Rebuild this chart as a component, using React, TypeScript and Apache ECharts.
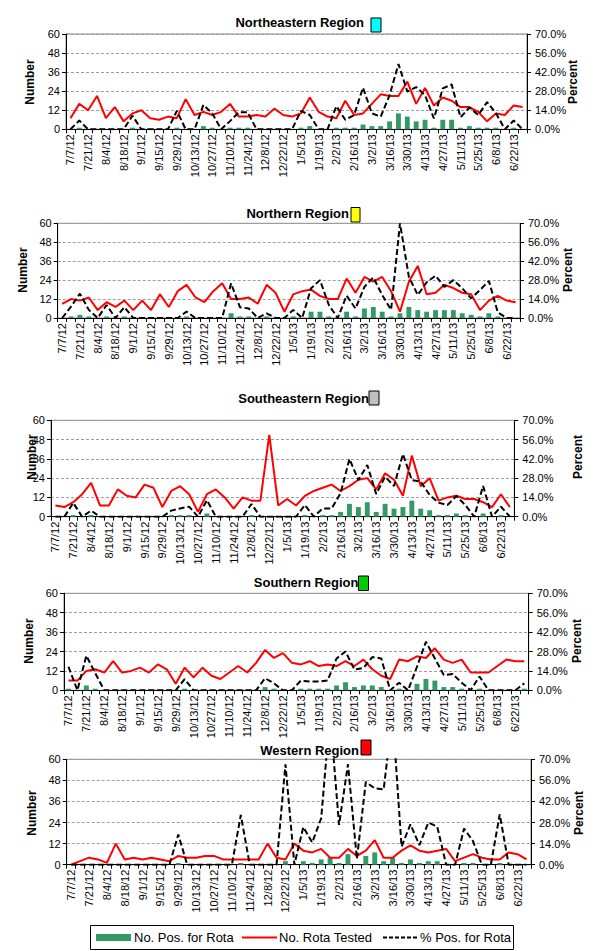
import React, { useEffect, useRef } from "react";
import * as echarts from "echarts";

const weeks = [
  "7/7/12", "7/14/12", "7/21/12", "7/28/12", "8/4/12", "8/11/12", "8/18/12", "8/25/12",
  "9/1/12", "9/8/12", "9/15/12", "9/22/12", "9/29/12", "10/6/12", "10/13/12", "10/20/12",
  "10/27/12", "11/3/12", "11/10/12", "11/17/12", "11/24/12", "12/1/12", "12/8/12", "12/15/12",
  "12/22/12", "12/29/12", "1/5/13", "1/12/13", "1/19/13", "1/26/13", "2/2/13", "2/9/13",
  "2/16/13", "2/23/13", "3/2/13", "3/9/13", "3/16/13", "3/23/13", "3/30/13", "4/6/13",
  "4/13/13", "4/20/13", "4/27/13", "5/4/13", "5/11/13", "5/18/13", "5/25/13", "6/1/13",
  "6/8/13", "6/15/13", "6/22/13", "6/29/13",
];

const numberTicks = { min: 0, max: 60, interval: 12 };
const percentTicks = { min: 0, max: 70, interval: 14 };

// Northeastern
const nePos = [0,1,0,0,0,0,0,1,0,0, 0,0,1,0,0,2,1,0,1,1, 1,0,0,0,0,0,1,2,0,0, 1,1,1,3,2,2,5,10,8,5, 6,1,6,6,1,2,1,1,1,0, 1,0];
const neTested = [7,16,12,21,7,14,5,10,12,7, 6,8,7,19,9,11,9,11,16,8, 8,9,8,13,9,8,10,20,11,8, 7,18,9,10,16,22,21,21,30,16, 26,15,20,18,14,14,11,5,10,9, 15,14];
const nePct = [0,6.4,0,0,0,0,0,10,0,0, 0,0,13.5,0,0,17.9,11.7,0,6,12.5, 12.5,0,0,0,0,0,13.5,10.5,0,0, 17,7,10.5,30.6,11.7,9.3,25,48,27.7,31, 25,8,30,33,8.8,16,10.5,20,11.7,0, 6.4,0];

// Northern
const nPos = [0,1,2,1,0,1,0,1,0,0, 0,0,0,0,1,0,0,0,0,3, 1,1,0,1,0,0,1,0,4,4, 1,0,4,1,6,7,4,1,3,7, 5,4,5,5,5,3,2,1,3,1, 0,0];
const nTested = [9,12,11,13,5,10,7,11,5,11, 5,15,7,17,21,13,10,17,22,12, 12,13,9,21,16,4,15,17,18,14, 12,12,25,16,26,23,26,17,4,23, 33,15,16,21,19,16,15,5,11,14, 11,10];
const nPct = [0,8.4,18,6,0,9.6,0,8,0,0, 0,0,0,0,4.7,0,0,0,0,25.6, 8,7,0,3.5,0,0,6,0,22,28, 9.6,0,16.5,7,23,30,17,6,70,30.5, 17,26.4,31.3,23,28,22,14.5,20.7,27.4,4.2, 0,0];

// Southeastern
const sePos = [0,0,1,0,1,0,0,0,0,0, 0,0,0,1,1,1,0,2,0,0, 0,0,1,0,0,0,0,0,1,0, 1,1,3,8,6,9,3,8,5,6, 10,5,4,1,1,2,1,0,2,0, 1,0];
const seTested = [7,6,9,14,21,7,7,17,13,12, 20,18,6,16,19,14,3,14,17,12, 5,12,10,10,51,7,11,7,13,16, 18,20,16,19,23,24,17,27,23,13, 38,19,24,10,12,13,11,11,9,6, 14,6];
const sePct = [0,0,10,0,4.4,0,0,0,0,0, 0,0,0,4.4,6,7.3,0,12,0,0, 0,0,9.2,0,0,0,0,0,8.5,0, 6,6,17,42,26.6,37.5,16.5,29,22.3,45.5, 26.6,25.4,15.7,10.2,8.5,15,8.5,0,22.3,0, 7.3,0];

// Southern
const sPos = [1,0,3,1,0,0,0,0,0,0, 0,0,0,1,0,0,0,0,0,0, 0,0,2,1,0,0,1,1,1,1, 3,5,2,3,3,2,0,1,0,4, 7,6,2,2,1,0,1,0,0,0, 0,1];
const sTested = [6,6,12,13,11,18,11,12,14,11, 16,13,4,14,8,14,9,7,11,15, 11,17,25,20,23,17,16,18,15,16, 15,18,15,19,13,9,7,19,18,21, 20,26,19,17,19,11,11,11,15,19, 18,18];
const sPct = [17,0,25,12.3,0,0,0,0,0,0, 0,0,0,8,0,0,0,0,0,0, 0,0,8.7,5,0,0,7,6.3,6.3,7, 23,28,15,16,24,23,0,5.5,0,17, 35,23,11,11.8,5.5,0,10,0,0,0, 0,5];

// Western
const wPos = [0,0,0,0,0,0,0,0,0,0, 0,0,1,0,0,0,0,0,0,1, 0,0,0,0,2,0,2,1,3,4, 1,6,0,5,7,2,4,1,3,1, 2,2,0,0,1,1,0,0,1,0, 0,0];
const wTested = [0,2,4,3,1,12,3,4,3,4, 3,2,5,4,4,5,5,3,3,3, 3,3,12,4,3,12,8,7,9,4, 4,9,5,8,14,4,4,8,11,8, 7,8,9,2,4,6,4,3,3,7, 6,3];
const wPct = [0,0,0,0,0,0,0,0,0,0, 0,0,20,0,0,0,0,0,0,33, 0,0,0,0,66.7,0,25,14.8,30.8,100, 26.4,66.7,3.8,55,50.7,50,100,12,26.8,13, 28,25.3,0,0,24,15.7,0,0,33.4,0, 0,0];

const seriesNames = ["No. Pos. for Rota", "No. Rota Tested", "% Pos. for Rota"];

const FONT = "'Liberation Sans', Arial, sans-serif";

const panels = [
  { title: "Northeastern Region", swatch: "#00FFFF", pos: nePos, tested: neTested, pct: nePct,
    grid: { left: 66, top: 34, width: 461, height: 95.3 }, titleEnd: 364, titleY: 22, sw: [371, 18, 10, 14],
    numX: 30, pctX: 573, nameY: 82 },
  { title: "Northern Region", swatch: "#FFFF00", pos: nPos, tested: nTested, pct: nPct,
    grid: { left: 57.7, top: 223.3, width: 462.3, height: 94.7 }, titleEnd: 349, titleY: 213.3, sw: [351, 207.5, 9, 14.5],
    numX: 23, pctX: 568, nameY: 270 },
  { title: "Southeastern Region", swatch: "#C0C0C0", pos: sePos, tested: seTested, pct: sePct,
    grid: { left: 51, top: 420.3, width: 463.3, height: 96.4 }, titleEnd: 369, titleY: 398.3, sw: [369, 391, 10, 14],
    numX: 32, pctX: 578, nameY: 457 },
  { title: "Southern Region", swatch: "#00CC00", pos: sPos, tested: sTested, pct: sPct,
    grid: { left: 64, top: 593.3, width: 464.7, height: 97 }, titleEnd: 358.5, titleY: 582.7, sw: [358.5, 576, 10, 14.5],
    numX: 29, pctX: 577, nameY: 641 },
  { title: "Western Region", swatch: "#FF0000", pos: wPos, tested: wTested, pct: wPct,
    grid: { left: 66.7, top: 759.3, width: 464.3, height: 105.4 }, titleEnd: 359, titleY: 750, sw: [361, 740, 10, 15],
    numX: 32, pctX: 579, nameY: 813 },
];

export default function App() {
  const ref = useRef<HTMLDivElement>(null);

  useEffect(() => {
    if (!ref.current) return;
    const chart = echarts.init(ref.current, undefined, { renderer: "svg" });

    const grids = panels.map((p) => ({
      ...p.grid,
      show: true,
      borderColor: "#808080",
      borderWidth: 1,
      backgroundColor: "transparent",
      containLabel: false,
    }));

    const xAxes = panels.map((p, k) => ({
      type: "category",
      gridIndex: k,
      data: weeks,
      boundaryGap: true,
      axisLine: { show: true, lineStyle: { color: "#000", width: 1 } },
      axisTick: { show: true, interval: 0, length: 4, lineStyle: { color: "#000" } },
      axisLabel: { interval: 1, rotate: 90, margin: 5, fontSize: 11, color: "#000", fontFamily: FONT },
      splitLine: { show: false },
    }));

    const yAxes: any[] = [];
    panels.forEach((p, k) => {
      yAxes.push({
        type: "value",
        gridIndex: k,
        position: "left",
        ...numberTicks,
        axisLine: { show: true, lineStyle: { color: "#000", width: 1 } },
        axisTick: { show: true, length: 4, lineStyle: { color: "#000" } },
        axisLabel: { margin: 6, fontSize: 11, color: "#000", fontFamily: FONT },
        splitLine: { show: true, lineStyle: { color: "#A0A0A0", width: 1, type: [3, 2] } },
      });
      yAxes.push({
        type: "value",
        gridIndex: k,
        position: "right",
        ...percentTicks,
        axisLine: { show: true, lineStyle: { color: "#000", width: 1 } },
        axisTick: { show: true, length: 4, lineStyle: { color: "#000" } },
        axisLabel: {
          margin: 8, fontSize: 11, color: "#000", fontFamily: FONT,
          formatter: (v: number) => v.toFixed(1) + "%",
        },
        splitLine: { show: false },
      });
    });

    const series: any[] = [];
    panels.forEach((p, k) => {
      series.push({
        type: "bar", name: seriesNames[0], xAxisIndex: k, yAxisIndex: 2 * k,
        data: p.pos, barWidth: "55%", itemStyle: { color: "#339966" }, z: 2,
      });
      series.push({
        type: "line", name: seriesNames[1], xAxisIndex: k, yAxisIndex: 2 * k,
        data: p.tested, symbol: "none", showSymbol: false,
        lineStyle: { color: "#FF0000", width: 2 }, z: 3,
      });
      series.push({
        type: "line", name: seriesNames[2], xAxisIndex: k, yAxisIndex: 2 * k + 1,
        data: p.pct, symbol: "none", showSymbol: false, clip: true,
        lineStyle: { color: "#000", width: 2, type: [6, 3] }, z: 4,
      });
    });

    const graphics: any[] = [];
    panels.forEach((p) => {
      graphics.push({
        type: "text", x: p.titleEnd, y: p.titleY,
        style: { text: p.title, fontSize: 13, fontWeight: "bold", fontFamily: FONT, fill: "#000",
          align: "right", verticalAlign: "middle" },
      });
      graphics.push({
        type: "rect", shape: { x: p.sw[0], y: p.sw[1], width: p.sw[2], height: p.sw[3] },
        style: { fill: p.swatch, stroke: "#000", lineWidth: 1 },
      });
      graphics.push({
        type: "text", x: p.numX, y: p.nameY, rotation: Math.PI / 2,
        style: { text: "Number", fontSize: 12, fontWeight: "bold", fontFamily: FONT, fill: "#000",
          align: "center", verticalAlign: "middle" },
      });
      graphics.push({
        type: "text", x: p.pctX, y: p.nameY, rotation: Math.PI / 2,
        style: { text: "Percent", fontSize: 12, fontWeight: "bold", fontFamily: FONT, fill: "#000",
          align: "center", verticalAlign: "middle" },
      });
    });

    // legend
    graphics.push({
      type: "rect", shape: { x: 90.5, y: 925.5, width: 423, height: 24 },
      style: { fill: "#fff", stroke: "#000", lineWidth: 1 },
    });
    graphics.push({
      type: "rect", shape: { x: 96, y: 934, width: 35, height: 7 },
      style: { fill: "#339966" },
    });
    graphics.push({
      type: "text", x: 134, y: 937.5,
      style: { text: seriesNames[0], fontSize: 13, fontFamily: FONT, fill: "#000", align: "left", verticalAlign: "middle" },
    });
    graphics.push({
      type: "line", shape: { x1: 242, y1: 937.5, x2: 277, y2: 937.5 },
      style: { stroke: "#FF0000", lineWidth: 2 },
    });
    graphics.push({
      type: "text", x: 279, y: 937.5,
      style: { text: seriesNames[1], fontSize: 13, fontFamily: FONT, fill: "#000", align: "left", verticalAlign: "middle" },
    });
    graphics.push({
      type: "line", shape: { x1: 383, y1: 937.5, x2: 417, y2: 937.5 },
      style: { stroke: "#000", lineWidth: 2, lineDash: [4, 2] },
    });
    graphics.push({
      type: "text", x: 420, y: 937.5,
      style: { text: seriesNames[2], fontSize: 13, fontFamily: FONT, fill: "#000", align: "left", verticalAlign: "middle" },
    });

    chart.setOption({
      animation: false,
      backgroundColor: "#fff",
      textStyle: { fontFamily: FONT },
      grid: grids,
      xAxis: xAxes,
      yAxis: yAxes,
      series,
      graphic: graphics,
    });

    return () => chart.dispose();
  }, []);

  return (
    <div
      ref={ref}
      style={{ position: "absolute", left: 0, top: 0, width: 602, height: 951, background: "#fff" }}
    />
  );
}
